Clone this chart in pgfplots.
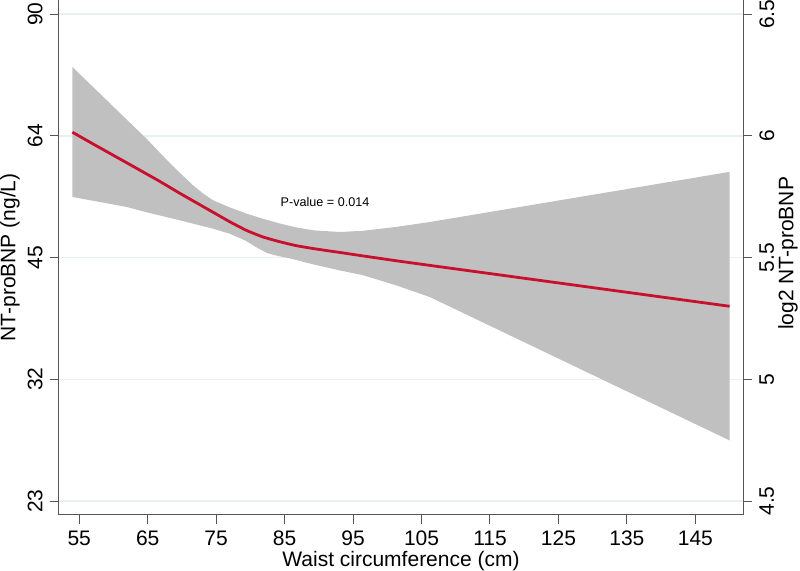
\documentclass[border=0pt]{standalone}
\usepackage{fontspec}
\setmainfont{Liberation Sans}
\usepackage{pgfplots}
\pgfplotsset{compat=1.18}
\definecolor{gridc}{RGB}{232,240,242}
\definecolor{bandc}{RGB}{192,192,192}
\definecolor{linec}{RGB}{200,16,46}
\definecolor{axc}{RGB}{85,85,85}
\begin{document}
\begin{tikzpicture}
\pgfplotsset{
  common/.style={
    width=342.3pt, height=257.35pt, scale only axis,
    xmin=52, xmax=152, ymin=4.444, ymax=6.558,
    tick align=outside, major tick length=4.5pt,
    tick style={color=axc, line width=0.5pt},
    axis line style={color=axc, line width=0.6pt},
    ytick={4.5,5,5.5,6,6.5},
    /pgf/number format/assume math mode=true,
    tick label style={font=\fontsize{10.5}{12}\selectfont},
    label style={font=\fontsize{10.5}{12}\selectfont},
  }
}
\begin{axis}[common,
  axis x line*=bottom, axis y line*=left,
  xtick={55,65,...,145},
  yticklabels={23,32,45,64,90},
  yticklabel style={rotate=90, anchor=south},
  ymajorgrids, major grid style={color=gridc, line width=0.8pt},
  xlabel={Waist circumference (cm)},
  ylabel={NT-proBNP (ng/L)},
  ylabel style={at={([xshift=-24.35pt]rel axis cs:0,0.5)}, anchor=center},
  xlabel style={at={([yshift=-23pt]rel axis cs:0.5,0)}, anchor=center},
]
% confidence band: upper bound forward, lower bound backward
\addplot[fill=bandc, draw=none] coordinates {
  (54,6.283) (58,6.174) (62,6.065) (64.8,5.989) (68,5.895) (69.7,5.848)
  (71.5,5.800) (73,5.765) (74.5,5.736) (77,5.706) (79.4,5.681) (82,5.658)
  (84.3,5.640) (86.7,5.624) (89.2,5.612) (93.1,5.605) (96.4,5.610)
  (101.3,5.626) (106.2,5.646) (150,5.852)
  (150,4.749) (106.2,5.338) (101.3,5.386) (96.4,5.428) (93.1,5.447)
  (89.2,5.472) (86,5.495) (84,5.507) (82.5,5.518) (81,5.540)
  (79.4,5.568) (77,5.598) (74.5,5.619) (69.7,5.653) (65,5.685)
  (61.9,5.708) (54,5.749)
} -- cycle;
% fitted curve
\addplot[color=linec, line width=1.4pt, smooth, tension=0.3] coordinates {
  (54,6.015) (57,5.967) (61.9,5.890) (66.7,5.814) (69.7,5.764) (72,5.727)
  (74.5,5.687) (77,5.647) (79.4,5.612) (81.8,5.585) (84.3,5.565)
  (86.7,5.549) (89.2,5.537) (91.6,5.527) (93.1,5.521) (96.4,5.507)
  (101.3,5.487) (106.2,5.468) (150,5.300)
};
\node[font=\fontsize{6.3}{7.5}\selectfont] at (axis cs:90.9,5.729) {P-value = 0.014};
\end{axis}
\begin{axis}[common,
  axis x line=none, axis y line*=right,
  yticklabels={4.5,5,5.5,6,6.5},
  yticklabel style={rotate=90, anchor=north},
  ylabel={log2 NT-proBNP},
  ylabel style={at={([xshift=22.35pt, yshift=2pt]rel axis cs:1,0.5)}, anchor=center},
]
\end{axis}
\pgfresetboundingbox
\path[use as bounding box] ([shift={(-29.35pt,-28.15pt)}]current axis.south west) rectangle +(400pt,285.5pt);
\end{tikzpicture}
\end{document}
